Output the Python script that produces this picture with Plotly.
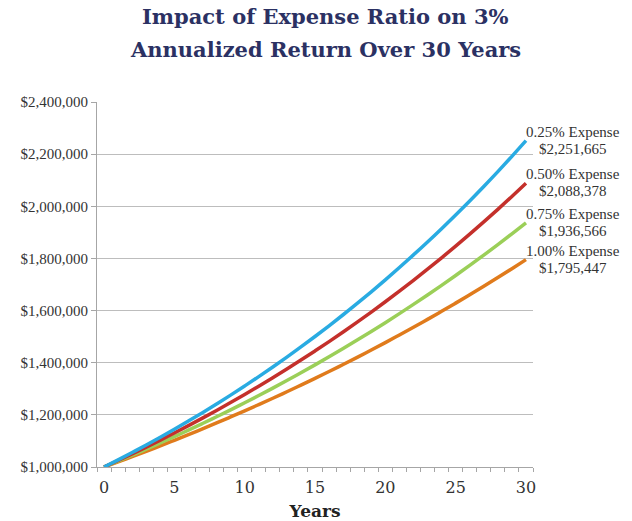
import plotly.graph_objects as go

years = list(range(31))

exp_025 = [1000000, 1027425, 1055602, 1084552, 1114296, 1144856, 1176254, 1208513, 1241656, 1275708,
           1310694, 1346640, 1383572, 1421516, 1460501, 1500555, 1541708, 1583989, 1627430, 1672062,
           1717919, 1765033, 1813439, 1863173, 1914271, 1966770, 2020709, 2076127, 2133065, 2191565, 2251665]
exp_050 = [1000000, 1024850, 1050318, 1076418, 1103167, 1130581, 1158676, 1187469, 1216978, 1247220,
           1278213, 1309977, 1342530, 1375892, 1410083, 1445124, 1481035, 1517839, 1555557, 1594213,
           1633829, 1674430, 1716040, 1758684, 1802387, 1847176, 1893078, 1940121, 1988333, 2037743, 2088378]
exp_075 = [1000000, 1022275, 1045046, 1068324, 1092121, 1116448, 1141317, 1166740, 1192729, 1219297,
           1246457, 1274222, 1302605, 1331621, 1361283, 1391606, 1422604, 1454293, 1486687, 1519803,
           1553657, 1588265, 1623644, 1659811, 1696783, 1734579, 1773217, 1812715, 1853093, 1894371, 1936566]
exp_100 = [1000000, 1019700, 1039788, 1060272, 1081159, 1102458, 1124176, 1146322, 1168905, 1191932,
           1215413, 1239357, 1263772, 1288668, 1314055, 1339942, 1366339, 1393256, 1420703, 1448691,
           1477230, 1506331, 1536006, 1566265, 1597120, 1628583, 1660666, 1693381, 1726741, 1760758, 1795447]

series_names = ["0.25% Expense", "0.50% Expense", "0.75% Expense", "1.00% Expense"]
series_values = [exp_025, exp_050, exp_075, exp_100]
colors = ["#29abe2", "#c4302b", "#9bcf58", "#e07b1c"]

title_lines = ["Impact of Expense Ratio on 3%", "Annualized Return Over 30 Years"]
y_ticks = [1000000, 1200000, 1400000, 1600000, 1800000, 2000000, 2200000, 2400000]
x_ticks = [0, 5, 10, 15, 20, 25, 30]

fig = go.Figure()
# draw lowest first so blue is on top
for name, vals, col in reversed(list(zip(series_names, series_values, colors))):
    fig.add_trace(go.Scatter(x=years, y=vals, mode="lines", name=name,
                             line=dict(color=col, width=3.5, shape="spline"),
                             showlegend=False, hoverinfo="x+y"))

for name, vals, col in zip(series_names, series_values, colors):
    for txt, ys in ((name, 9), (f"${vals[-1]:,}", -8)):
        fig.add_annotation(x=years[-1], y=vals[-1], xref="x", yref="y",
                           text=txt, showarrow=False,
                           xanchor="center", yanchor="middle", xshift=47, yshift=ys,
                           font=dict(family="Liberation Serif", size=15, color="#333333"))

# title as two annotation lines
for i, line in enumerate(title_lines):
    fig.add_annotation(text=f"<b>{line}</b>", xref="paper", yref="paper",
                       x=0.525, y=1 + (86 - 33 * i) / 365, xanchor="center", yanchor="middle",
                       showarrow=False,
                       font=dict(family="DejaVu Serif", size=21, color="#2b3163"))

fig.update_layout(
    width=632, height=521,
    margin=dict(l=97, r=99, t=102, b=54),
    paper_bgcolor="white", plot_bgcolor="white",
    font=dict(family="Liberation Serif", color="#333333"),
)

fig.update_xaxes(range=[-0.5, 30.5], tickvals=x_ticks, ticktext=[str(v) for v in x_ticks],
                 ticks="", showgrid=False, zeroline=False, automargin=False,
                 showline=True, linecolor="#a6a6a6", linewidth=1,
                 ticklabelstandoff=6,
                 tickfont=dict(family="DejaVu Serif", size=16, color="#333333"),
                 minor=dict(tick0=-0.5, dtick=1, ticks="outside", ticklen=4, tickcolor="#a6a6a6", showgrid=False),
                 title=dict(text="<b>Years</b>", font=dict(family="DejaVu Serif", size=17, color="#222222"), standoff=12))

fig.update_yaxes(range=[1000000, 2400000], tickvals=y_ticks,
                 ticktext=[f"${v:,}" for v in y_ticks],
                 ticks="outside", ticklen=5, tickcolor="#a6a6a6", automargin=False,
                 showgrid=True, gridcolor="#bdbdbd", gridwidth=1, zeroline=False,
                 showline=True, linecolor="#a6a6a6", linewidth=1,
                 tickfont=dict(family="Liberation Serif", size=15, color="#333333"))

fig.write_html("out.html")
